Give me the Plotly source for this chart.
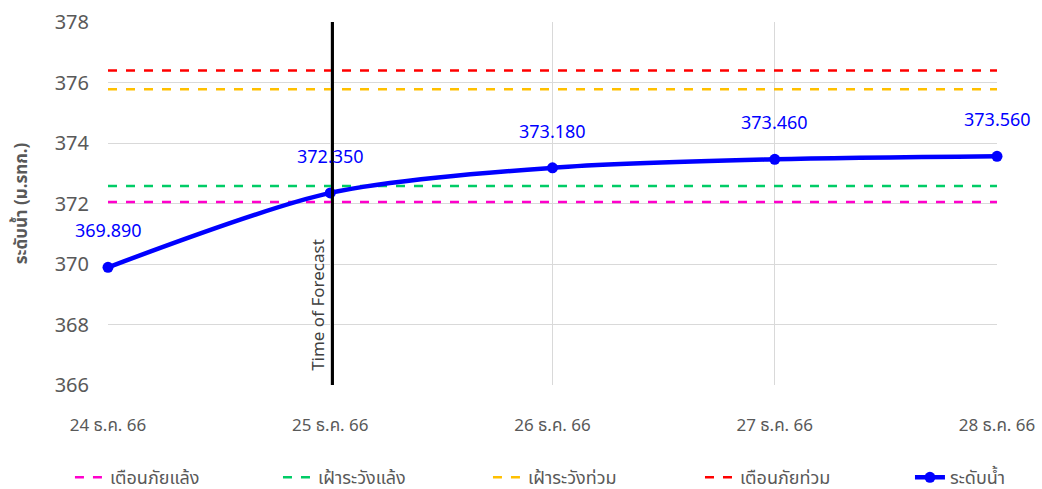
import plotly.graph_objects as go

dates = ["24 ธ.ค. 66", "25 ธ.ค. 66", "26 ธ.ค. 66", "27 ธ.ค. 66", "28 ธ.ค. 66"]
water_level = [369.89, 372.35, 373.18, 373.46, 373.56]
drought_warning = 372.05   # เตือนภัยแล้ง
drought_watch = 372.58     # เฝ้าระวังแล้ง
flood_watch = 375.78       # เฝ้าระวังท่วม
flood_warning = 376.40     # เตือนภัยท่วม
forecast_index = 1.01
y_range = [366, 378]

xs = list(range(len(dates)))
FONT = "Noto Sans, Noto Sans Thai, DejaVu Sans, sans-serif"

# legend item left positions (paper coords)
legend_x = [-0.0428, 0.1912, 0.4274, 0.6659, 0.9021]
legend_ids = ["legend", "legend2", "legend3", "legend4", "legend5"]

fig = go.Figure()
thresholds = [
    ("เตือนภัยแล้ง", drought_warning, "#ff00cc"),
    ("เฝ้าระวังแล้ง", drought_watch, "#00cc66"),
    ("เฝ้าระวังท่วม", flood_watch, "#ffc000"),
    ("เตือนภัยท่วม", flood_warning, "#ff0000"),
]
for i, (name, val, col) in enumerate(thresholds):
    fig.add_trace(go.Scatter(
        x=[xs[0], xs[-1]], y=[val, val], mode="lines", name=name,
        line=dict(color=col, width=2.5, dash="dash"), hoverinfo="skip",
        cliponaxis=False, legend=legend_ids[i]))

fig.add_trace(go.Scatter(
    x=xs, y=water_level, mode="lines+markers", name="ระดับน้ำ",
    line=dict(color="#0000ff", width=4.5, shape="spline", smoothing=0.8),
    marker=dict(color="#0000ff", size=11),
    cliponaxis=False, legend=legend_ids[4]))

for xv, v in zip(xs, water_level):
    fig.add_annotation(x=xv, y=v, xref="x", yref="y", text=f"{v:.3f}",
                       showarrow=False, yshift=37, xanchor="center", yanchor="middle",
                       font=dict(color="#0000ff", size=18, family=FONT))

fig.add_shape(type="line", xref="x", yref="paper", x0=forecast_index, x1=forecast_index,
              y0=0, y1=1, line=dict(color="black", width=3))
fig.add_annotation(x=forecast_index, y=y_range[0] + 0.4, xref="x", yref="y",
                   text="Time of Forecast", textangle=-90, showarrow=False,
                   xanchor="right", yanchor="bottom", xshift=-1,
                   font=dict(size=17, color="#404040", family=FONT))

legend_common = dict(orientation="h", y=-0.255, yanchor="middle", xanchor="left",
                     bgcolor="rgba(0,0,0,0)",
                     font=dict(size=18, color="#595959", family=FONT))
legend_layout = {lid: dict(x=lx, **legend_common) for lid, lx in zip(legend_ids, legend_x)}

fig.update_layout(
    width=1042, height=489,
    margin=dict(l=108, r=45, t=22, b=104, autoexpand=False),
    plot_bgcolor="white", paper_bgcolor="white",
    font=dict(family=FONT, color="#595959"),
    showlegend=True,
    xaxis=dict(range=[0, 4], tickvals=xs, ticktext=dates, showgrid=True,
               gridcolor="#d9d9d9", gridwidth=1, zeroline=False, automargin=False,
               tickfont=dict(size=17, color="#595959"), ticks="", ticklabelstandoff=28,
               showline=False),
    yaxis=dict(range=y_range, dtick=2, showgrid=True, gridcolor="#d9d9d9",
               gridwidth=1, zeroline=False, automargin=False,
               tickfont=dict(size=20, color="#595959"), ticklabelstandoff=18,
               title=dict(text="<b>ระดับน้ำ (ม.รทก.)</b>", font=dict(size=17, color="#595959"),
                          standoff=22)),
    **legend_layout,
)
fig.write_html("out.html", config={"displayModeBar": False},
               post_script="document.body.style.margin='0';")
